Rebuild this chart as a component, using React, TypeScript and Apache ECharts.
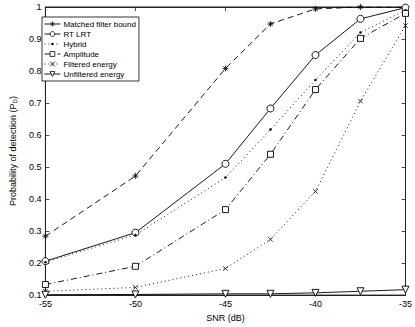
import React, { useEffect, useRef } from "react";
import * as echarts from "echarts";

const snr = [-55, -50, -45, -42.5, -40, -37.5, -35];
const matchedFilter = [0.284, 0.472, 0.808, 0.947, 0.994, 1.0, 1.0];
const rtLrt = [0.206, 0.295, 0.51, 0.683, 0.85, 0.963, 0.998];
const hybrid = [0.203, 0.288, 0.467, 0.617, 0.772, 0.92, 0.99];
const amplitude = [0.133, 0.19, 0.367, 0.54, 0.742, 0.902, 0.98];
const filteredEnergy = [0.112, 0.124, 0.183, 0.274, 0.424, 0.706, 0.942];
const unfilteredEnergy = [0.101, 0.102, 0.104, 0.104, 0.107, 0.112, 0.117];
const seriesNames = [
  "Matched filter bound",
  "RT LRT",
  "Hybrid",
  "Amplitude",
  "Filtered energy",
  "Unfiltered energy",
];

const FONT = "Liberation Sans, Arial, Helvetica, sans-serif";
const STAR = "path://M5,0L5,10M0,5L10,5M1.5,1.5L8.5,8.5M8.5,1.5L1.5,8.5";
const CROSS = "path://M0,0L10,10M10,0L0,10";
const DOT = "path://M0,0M6,6M3,1.5A1.5,1.5,0,1,1,3,4.5A1.5,1.5,0,1,1,3,1.5Z";

export default function App() {
  const ref = useRef<HTMLDivElement>(null);
  useEffect(() => {
    if (!ref.current) return;
    const chart = echarts.init(ref.current, undefined, { renderer: "svg" });
    const pairs = (ys: number[]) => snr.map((x, i) => [x, ys[i]]);
    const base = (name: string, ys: number[], lineType: any, symbol: string, size: number, extra: any = {}) => ({
      name,
      type: "line",
      data: pairs(ys),
      xAxisIndex: 0,
      yAxisIndex: 0,
      symbol,
      symbolSize: size,
      showAllSymbol: true,
      lineStyle: { color: "#000", width: 0.9, type: lineType },
      itemStyle: { color: "#fff", borderColor: "#000", borderWidth: 0.9 },
      emphasis: { disabled: true },
      ...extra,
    });
    const axisLine = { show: true, lineStyle: { color: "#222", width: 1 } };
    const tick = { show: true, inside: true, length: 4, lineStyle: { color: "#222", width: 0.8 } };
    chart.setOption({
      animation: false,
      backgroundColor: "#fff",
      textStyle: { fontFamily: FONT },
      grid: {
        left: 33,
        right: 9,
        top: 7,
        bottom: 25,
        show: true,
        borderColor: "#222",
        borderWidth: 1,
      },
      legend: {
        orient: "vertical",
        left: 42,
        top: 17,
        data: seriesNames,
        itemWidth: 16,
        itemHeight: 6,
        itemGap: 0,
        padding: [2, 3, 2, 2],
        borderColor: "#000",
        borderWidth: 0.8,
        backgroundColor: "#fff",
        lineStyle: { width: 0.9 },
        itemStyle: { borderWidth: 0.8 },
        textStyle: { fontSize: 8, fontFamily: FONT, color: "#000", lineHeight: 10, padding: [0, 0, 0, -2] },
        selectedMode: false,
      },
      xAxis: [
        {
          type: "value",
          min: -55,
          max: -35,
          interval: 5,
          name: "SNR (dB)",
          nameLocation: "middle",
          nameGap: 15,
          nameTextStyle: { fontSize: 9, color: "#000", fontFamily: FONT },
          axisLine,
          axisTick: tick,
          axisLabel: { fontSize: 9, color: "#000", margin: 4, fontFamily: FONT },
          splitLine: { show: false },
        },
        {
          type: "value",
          position: "top",
          min: -55,
          max: -35,
          interval: 5,
          axisLine,
          axisTick: tick,
          axisLabel: { show: false },
          splitLine: { show: false },
        },
      ],
      yAxis: [
        {
          type: "value",
          min: 0.1,
          max: 1,
          interval: 0.1,
          name: "Probability of detection (P{sub|D})",
          nameLocation: "middle",
          nameGap: 20,
          nameTextStyle: {
            fontSize: 9,
            color: "#000",
            fontFamily: FONT,
            rich: { sub: { fontSize: 6, fontFamily: FONT, color: "#000", padding: [5, 0, 0, 0] } },
          },
          axisLine,
          axisTick: tick,
          axisLabel: {
            fontSize: 9,
            color: "#000",
            margin: 4,
            fontFamily: FONT,
            formatter: (v: number) => String(Math.round(v * 10) / 10),
          },
          splitLine: { show: false },
        },
        {
          type: "value",
          position: "right",
          min: 0.1,
          max: 1,
          interval: 0.1,
          axisLine,
          axisTick: tick,
          axisLabel: { show: false },
          splitLine: { show: false },
        },
      ],
      series: [
        base(seriesNames[0], matchedFilter, [6, 4], STAR, 6, {
          itemStyle: { color: "#000", borderColor: "#000", borderWidth: 0.8 },
        }),
        base(seriesNames[1], rtLrt, "solid", "circle", 7),
        base(seriesNames[2], hybrid, [1, 3], DOT, 5, {
          itemStyle: { color: "#000", borderWidth: 0 },
        }),
        base(seriesNames[3], amplitude, [6, 3, 1, 3], "rect", 6),
        base(seriesNames[4], filteredEnergy, [1, 3], CROSS, 4.5, {
          itemStyle: { color: "#000", borderColor: "#000", borderWidth: 0.8 },
        }),
        base(seriesNames[5], unfilteredEnergy, "solid", "triangle", 7, { symbolRotate: 180 }),
      ],
    });
    return () => chart.dispose();
  }, []);
  return <div ref={ref} style={{ width: 415, height: 327, position: "absolute", left: 0, top: 0 }} />;
}
